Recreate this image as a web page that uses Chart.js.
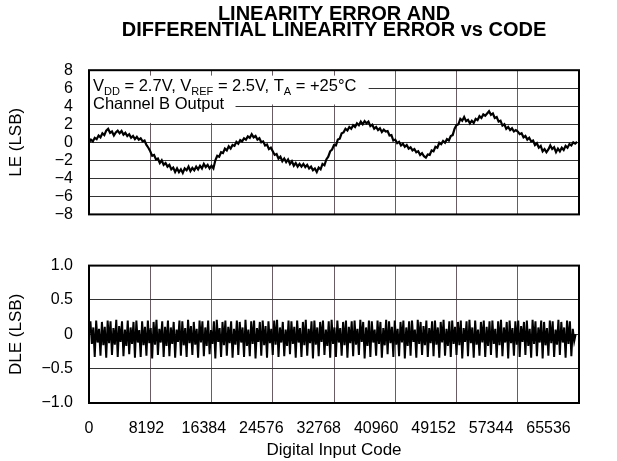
<!DOCTYPE html>
<html>
<head>
<meta charset="utf-8">
<script src="https://cdn.jsdelivr.net/npm/chart.js@4.4.0/dist/chart.umd.min.js"></script>
<style>
body{margin:0;background:#fff;}
#wrap{position:relative;width:617px;height:461px;}
canvas{position:absolute;left:0;}
#leChart{top:0;width:617px;height:240px;}
#dleChart{top:240px;width:617px;height:221px;}
</style>
</head>
<body>
<div id="wrap">
<canvas id="leChart" width="617" height="240"></canvas>
<canvas id="dleChart" width="617" height="221"></canvas>
</div>
<script>
// x axis: digital input code
var codeTicks = [0, 8192, 16384, 24576, 32768, 40960, 49152, 57344, 65536];
var leTicks = [-8, -6, -4, -2, 0, 2, 4, 6, 8];
var dleTicks = [-1, -0.5, 0, 0.5, 1];

// LE, one value every 256 codes
var leStep = 256;
var leValues = [
  0.0, 0.3, 0.1, 0.5, 0.35, 0.75, 0.55, 1.0, 0.8, 1.3, 1.5, 1.05, 1.2, 0.75, 1.1, 1.3,
  1.0, 1.25, 0.85, 1.05, 0.7, 0.9, 0.5, 0.7, 0.35, 0.6, 0.3, 0.45, 0.1, 0.2, -0.3, -0.6,
  -1.0, -1.5, -1.4, -1.9, -1.8, -2.3, -2.0, -2.5, -2.3, -2.7, -2.5, -3.0, -2.8, -3.3, -2.9, -3.3,
  -3.0, -3.4, -2.9, -3.1, -2.7, -3.2, -2.85, -3.1, -2.7, -3.0, -2.6, -2.9, -2.4, -2.75, -2.5, -2.9,
  -2.6, -2.9, -2.0, -1.5, -1.6, -1.1, -1.2, -0.7, -0.9, -0.45, -0.7, -0.3, -0.4, 0.05, -0.15, 0.25,
  0.1, 0.45, 0.3, 0.65, 0.5, 0.9, 0.55, 0.7, 0.3, 0.45, 0.0, 0.1, -0.35, -0.25, -0.75, -0.6,
  -1.0, -1.4, -1.3, -1.8, -1.6, -2.1, -1.8, -2.2, -1.9, -2.4, -2.1, -2.6, -2.3, -2.7, -2.4, -2.7,
  -2.4, -2.75, -2.5, -2.9, -2.7, -3.1, -2.9, -3.3, -2.8, -3.0, -2.4, -2.55, -1.9, -1.6, -1.0, -0.8,
  -0.3, -0.35, 0.3, 0.4, 1.0, 1.1, 1.5, 1.3, 1.7, 1.5, 1.9, 1.7, 2.1, 1.9, 2.3, 2.0,
  2.35, 2.1, 2.3, 1.8, 1.95, 1.5, 1.7, 1.35, 1.55, 1.15, 1.4, 1.2, 1.25, 0.75, 0.8, 0.2,
  0.3, -0.1, 0.05, -0.35, -0.15, -0.5, -0.3, -0.7, -0.55, -0.9, -0.75, -1.1, -1.0, -1.4, -1.2, -1.55,
  -1.7, -1.35, -1.4, -0.9, -1.0, -0.5, -0.6, -0.05, -0.2, 0.15, -0.05, 0.35, 0.2, 0.7, 0.8, 1.5,
  1.9, 2.0, 2.6, 2.4, 2.8, 2.35, 2.5, 2.1, 2.4, 2.15, 2.6, 2.45, 2.9, 2.7, 3.1, 2.95,
  3.2, 3.45, 3.05, 3.2, 2.7, 2.8, 2.3, 2.4, 1.85, 2.0, 1.5, 1.7, 1.35, 1.55, 1.2, 1.35,
  1.2, 0.9, 1.0, 0.55, 0.7, 0.3, 0.5, 0.1, 0.2, -0.3, -0.1, -0.6, -0.4, -1.0, -0.75, -1.1,
  -0.8, -0.35, -0.75, -0.55, -1.1, -0.7, -1.0, -0.6, -0.85, -0.4, -0.6, -0.2, -0.35, 0.0, -0.15, 0.05
];

// DLE, one value every 192 codes
var dleStep = 192;
var dleValues = [
  0, 0.19, -0.14, 0.1, -0.33, 0.2, -0.12, 0.08, -0.31, 0.18, -0.16, 0.11, -0.34, 0.2, -0.13, 0.19, -0.3, 0.09, -0.15, 0.21,
  -0.33, 0.12, -0.11, 0.19, -0.32, 0.07, -0.17, 0.2, -0.29, 0.1, -0.14, 0.18, -0.34, 0.2, -0.12, 0.06, -0.33, 0.19, -0.16, 0.11,
  -0.31, 0.2, -0.13, 0.09, -0.35, 0.18, -0.15, 0.21, -0.3, 0.08, -0.12, 0.19, -0.33, 0.11, -0.17, 0.2, -0.32, 0.1, -0.14, 0.18,
  -0.34, 0.07, -0.11, 0.2, -0.31, 0.19, -0.16, 0.09, -0.33, 0.21, -0.13, 0.12, -0.3, 0.18, -0.15, 0.08, -0.34, 0.2, -0.12, 0.19,
  -0.32, 0.1, -0.17, 0.2, -0.29, 0.06, -0.14, 0.19, -0.35, 0.21, -0.11, 0.09, -0.33, 0.18, -0.16, 0.2, -0.31, 0.11, -0.13, 0.19,
  -0.34, 0.08, -0.15, 0.2, -0.3, 0.18, -0.12, 0.1, -0.33, 0.21, -0.17, 0.07, -0.32, 0.19, -0.14, 0.2, -0.35, 0.09, -0.11, 0.18,
  -0.31, 0.2, -0.16, 0.12, -0.34, 0.19, -0.13, 0.08, -0.3, 0.2, -0.15, 0.21, -0.33, 0.1, -0.12, 0.18, -0.32, 0.07, -0.17, 0.2,
  -0.29, 0.19, -0.14, 0.11, -0.34, 0.2, -0.12, 0.09, -0.33, 0.18, -0.16, 0.21, -0.31, 0.08, -0.13, 0.19, -0.35, 0.2, -0.15, 0.1,
  -0.32, 0.18, -0.11, 0.2, -0.3, 0.07, -0.17, 0.19, -0.34, 0.21, -0.14, 0.1, -0.33, 0.2, -0.12, 0.09, -0.31, 0.18, -0.16, 0.2,
  -0.34, 0.11, -0.13, 0.19, -0.32, 0.2, -0.15, 0.08, -0.3, 0.21, -0.11, 0.18, -0.35, 0.1, -0.17, 0.2, -0.33, 0.19, -0.12, 0.07,
  -0.31, 0.2, -0.14, 0.18, -0.34, 0.09, -0.16, 0.21, -0.29, 0.19, -0.13, 0.11, -0.33, 0.2, -0.15, 0.08, -0.32, 0.18, -0.12, 0.2,
  -0.35, 0.1, -0.17, 0.19, -0.31, 0.2, -0.11, 0.07, -0.34, 0.21, -0.14, 0.18, -0.3, 0.12, -0.16, 0.2, -0.33, 0.09, -0.13, 0.19,
  -0.32, 0.2, -0.15, 0.1, -0.34, 0.18, -0.12, 0.21, -0.31, 0.08, -0.17, 0.19, -0.33, 0.2, -0.14, 0.11, -0.3, 0.18, -0.16, 0.2,
  -0.35, 0.09, -0.11, 0.19, -0.32, 0.21, -0.13, 0.1, -0.34, 0.2, -0.15, 0.07, -0.31, 0.18, -0.12, 0.2, -0.33, 0.11, -0.17, 0.19,
  -0.3, 0.2, -0.14, 0.08, -0.34, 0.19, -0.16, 0.21, -0.32, 0.1, -0.12, 0.18, -0.35, 0.2, -0.13, 0.09, -0.31, 0.19, -0.15, 0.2,
  -0.33, 0.12, -0.11, 0.18, -0.3, 0.2, -0.17, 0.08, -0.34, 0.21, -0.14, 0.19, -0.32, 0.1, -0.12, 0.2, -0.35, 0.18, -0.16, 0.09,
  -0.31, 0.2, -0.13, 0.19, -0.33, 0.07, -0.15, 0.21, -0.3, 0.18, -0.12, 0.1, -0.34, 0.2, -0.14, 0.19, -0.32, 0.08, -0.1, 0
];

var FONT = '"Liberation Sans", Arial, Helvetica, sans-serif';
Chart.defaults.font.family = FONT;
Chart.defaults.color = '#000';

function toPoints(values, step) {
  return values.map(function (v, i) { return {x: i * step, y: v}; });
}
function minus(v) { return String(v).replace('-', '\u2212'); }

// black box round the plot area
var frame = {
  id: 'frame',
  afterDraw: function (chart) {
    var a = chart.chartArea, ctx = chart.ctx;
    ctx.save();
    ctx.strokeStyle = '#000';
    ctx.lineWidth = 2;
    ctx.strokeRect(a.left, a.top, a.right - a.left, a.bottom - a.top);
    ctx.restore();
  }
};

// test-condition note in the top left corner, on white
var note = {
  id: 'note',
  beforeDatasetsDraw: function (chart) {
    var ctx = chart.ctx, a = chart.chartArea, x = chart.scales.x, y = chart.scales.y;
    ctx.save();
    ctx.fillStyle = '#fff';
    var t = y.getPixelForValue(7.4), m = y.getPixelForValue(4.2), b = y.getPixelForValue(2.15);
    ctx.fillRect(a.left + 1, t, x.getPixelForValue(37400) - a.left - 1, m - t);
    ctx.fillRect(a.left + 1, m - 1, x.getPixelForValue(19600) - a.left - 1, b - m + 1);
    ctx.fillStyle = '#000';
    ctx.textBaseline = 'alphabetic';
    var parts = [['V'], ['DD', 1], [' = 2.7V, V'], ['REF', 1], [' = 2.5V, T'], ['A', 1], [' = +25\u00B0C']];
    var px = a.left + 4, py = a.top + 21;
    parts.forEach(function (p) {
      ctx.font = (p[1] ? '11px ' : '16.5px ') + FONT;
      ctx.fillText(p[0], px, p[1] ? py + 4 : py);
      px += ctx.measureText(p[0]).width;
    });
    ctx.font = '16.5px ' + FONT;
    ctx.fillText('Channel B Output', a.left + 4, a.top + 38.5);
    ctx.restore();
  }
};

new Chart(document.getElementById('leChart'), {
  type: 'line',
  data: {
    datasets: [{
      data: toPoints(leValues, leStep),
      borderColor: '#000',
      borderWidth: 2.2,
      pointRadius: 0,
      tension: 0
    }]
  },
  options: {
    responsive: false,
    animation: false,
    layout: {padding: {left: 0, right: 38, top: 0, bottom: 0}},
    plugins: {
      legend: {display: false},
      tooltip: {enabled: false},
      title: {
        display: true,
        fullSize: false,
        text: ['LINEARITY ERROR AND', 'DIFFERENTIAL LINEARITY ERROR vs CODE'],
        font: {size: 20, weight: 'bold', lineHeight: 0.83},
        color: '#000',
        padding: {top: 6, bottom: 31}
      }
    },
    scales: {
      x: {
        type: 'linear', min: 0, max: 65536,
        afterBuildTicks: function (s) { s.ticks = codeTicks.map(function (v) { return {value: v}; }); },
        ticks: {display: false},
        grid: {color: '#6b5b62', lineWidth: 1, drawTicks: false},
        border: {display: false},
        afterFit: function (s) { s.height = 23; }
      },
      y: {
        min: -8, max: 8,
        afterBuildTicks: function (s) { s.ticks = leTicks.map(function (v) { return {value: v}; }); },
        ticks: {font: {size: 16}, padding: 16, autoSkip: false, callback: function (v) { return minus(v); }},
        grid: {color: '#333', lineWidth: 1, drawTicks: false},
        border: {display: false},
        title: {display: true, text: 'LE (LSB)', font: {size: 17}, padding: {top: 6, bottom: 0}},
        afterFit: function (s) { s.width = 89; }
      }
    }
  },
  plugins: [note, frame]
});

new Chart(document.getElementById('dleChart'), {
  type: 'line',
  data: {
    datasets: [{
      data: toPoints(dleValues, dleStep),
      borderColor: '#000',
      borderWidth: 2,
      pointRadius: 0,
      tension: 0
    }]
  },
  options: {
    responsive: false,
    animation: false,
    layout: {padding: {left: 0, right: 38, top: 15, bottom: 0}},
    plugins: {legend: {display: false}, tooltip: {enabled: false}},
    scales: {
      x: {
        type: 'linear', min: 0, max: 65536,
        afterBuildTicks: function (s) { s.ticks = codeTicks.map(function (v) { return {value: v}; }); },
        ticks: {display: false},
        grid: {color: '#6b5b62', lineWidth: 1, drawTicks: false},
        border: {display: false},
        afterFit: function (s) { s.height = 0; }
      },
      xt: {
        type: 'linear', position: 'bottom', min: 0, max: 69890,
        afterBuildTicks: function (s) { s.ticks = codeTicks.map(function (v) { return {value: v}; }); },
        ticks: {font: {size: 16}, padding: 16, maxRotation: 0, autoSkip: false, callback: function (v) { return String(v); }},
        grid: {display: false, drawTicks: false},
        border: {display: false},
        title: {display: true, text: 'Digital Input Code', font: {size: 17}, padding: {top: 0, bottom: 0}},
        afterFit: function (s) { s.height = 58; }
      },
      y: {
        min: -1, max: 1,
        afterBuildTicks: function (s) { s.ticks = dleTicks.map(function (v) { return {value: v}; }); },
        ticks: {font: {size: 16}, padding: 16, autoSkip: false, callback: function (v) { return v === 0 ? '0' : minus(v.toFixed(1)); }},
        grid: {color: '#333', lineWidth: 1, drawTicks: false},
        border: {display: false},
        title: {display: true, text: 'DLE (LSB)', font: {size: 17}, padding: {top: 6, bottom: 0}},
        afterFit: function (s) { s.width = 89; }
      }
    }
  },
  plugins: [frame]
});
</script>
</body>
</html>
